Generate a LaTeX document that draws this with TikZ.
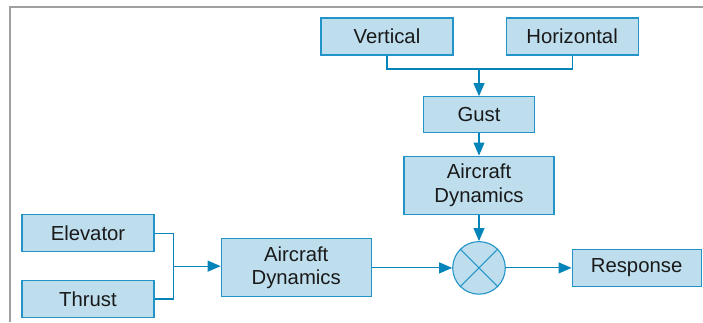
\documentclass[tikz,border=0pt]{standalone}
\usepackage{fontspec}
\setmainfont{Liberation Sans}
\usetikzlibrary{positioning, calc, arrows.meta}
\definecolor{boxfill}{RGB}{190,222,238}
\definecolor{boxline}{RGB}{35,148,200}
\definecolor{wireblue}{RGB}{5,132,186}
\definecolor{framegrey}{RGB}{160,160,160}

\begin{document}
\begin{tikzpicture}[
    x=1pt, y=1pt,
    font=\fontsize{20.3}{23.3}\selectfont,
    block/.style={rectangle, draw=boxline, fill=boxfill, line width=1.1pt, text=black!90, align=center, inner sep=0pt, minimum width=132pt, minimum height=37pt},
    dynblock/.style={block, minimum width=150pt, minimum height=58pt},
    mixer/.style={circle, draw=boxline, fill=boxfill, line width=1.1pt, minimum size=52.6pt, inner sep=0pt},
    wire/.style={draw=wireblue, line width=1.1pt},
    arrow/.style={wire, -{Triangle[length=13pt, width=11pt]}}
]
    \useasboundingbox (0,0) rectangle (703,322);

    % Frame
    \draw[framegrey, line width=1.3pt] (703,315) -| (10,0);

    % Gust sources
    \node[block] (vert) at (387,285.5) {Vertical};
    \node[block, right=52pt of vert] (horiz) {Horizontal};

    % Gust
    \node[block, minimum width=110.6pt, minimum height=36pt] (gust) at (479,207.3) {Gust};

    % Gust dynamics
    \node[dynblock, below=22.3pt of gust] (dyn2) {Aircraft\\Dynamics};

    % Multiplier
    \node[mixer, below=26.4pt of dyn2] (mult) {};
    \draw[boxline, line width=1.1pt] (mult.north west) -- (mult.south east);
    \draw[boxline, line width=1.1pt] (mult.north east) -- (mult.south west);

    % Control dynamics
    \node[dynblock, left=80.4pt of mult] (dyn1) {Aircraft\\Dynamics};

    % Response
    \node[block, minimum width=129pt, right=65.7pt of mult] (resp) {Response};

    % Inputs
    \node[block] (elev) at (88,88.7) {Elevator};
    \node[block, below=27.6pt of elev] (thrust) {Thrust};

    % Connectors
    \coordinate (topjoin) at (gust.north |- 0,253);
    \draw[wire] (vert.south) |- (topjoin) -| (horiz.south);
    \draw[arrow] (topjoin) -- (gust);
    \draw[arrow] (gust) -- (dyn2);
    \draw[arrow] (dyn2) -- (mult);

    \coordinate (leftjoin) at ($(elev.east)!.5!(thrust.east)+(19,0)$);
    \draw[wire] (elev.east) -| (leftjoin) |- (thrust.east);
    \draw[arrow] (leftjoin) -- (leftjoin -| dyn1.west);
    \draw[arrow] (dyn1) -- (mult);
    \draw[arrow] (mult) -- (resp);

\end{tikzpicture}
\end{document}
